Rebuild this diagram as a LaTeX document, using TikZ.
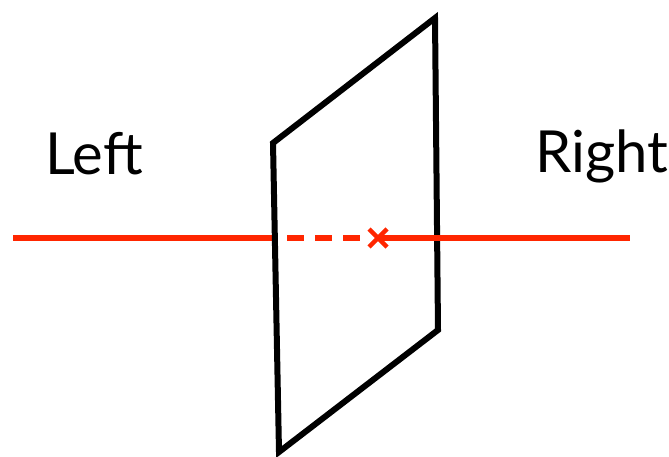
\documentclass[tikz,border=0pt]{standalone}
\usepackage{fontspec}
\setmainfont{Lato}
\definecolor{rayred}{RGB}{255,38,0}
\begin{document}
\begin{tikzpicture}[x=1pt,y=-1pt,
  ray/.style={draw=rayred,line width=6.5pt},
  plane/.style={draw=black,line width=6pt,line join=miter},
  lab/.style={anchor=base west,inner sep=0pt,text=black,font=\fontsize{58}{60}\selectfont}]
\useasboundingbox (0,0) rectangle (669,457);
\coordinate (rs) at (13,238);
\coordinate (le) at (276,238);
\coordinate (ds) at (287,238);
\coordinate (de) at (364,238);
\coordinate (xc) at (378,238);
\coordinate (re) at (630,238);
\coordinate (p1) at (273,143);
\coordinate (p2) at (435,18);
\coordinate (p3) at (438,330);
\coordinate (p4) at (279,452);
\draw[ray] (rs) -- (le);
\draw[plane] (p1) -- (p2) -- (p3) -- (p4) -- cycle;
\draw[ray,dash pattern=on 17pt off 11pt] (ds) -- (de);
\draw[draw=rayred,line width=4.5pt] ([shift={(-9,-9)}]xc) -- ([shift={(9,9)}]xc)
  ([shift={(-9,9)}]xc) -- ([shift={(9,-9)}]xc);
\draw[ray] (xc) -- (re);
\node[lab] (left) at (45,175) {Left};
\node[lab] (right) at (535,173) {Right};
\end{tikzpicture}
\end{document}
